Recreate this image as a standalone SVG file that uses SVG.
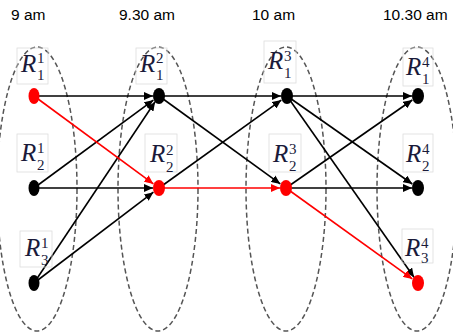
<svg xmlns="http://www.w3.org/2000/svg" width="453" height="335" viewBox="0 0 453 335">
<style>
.time{font-family:"Liberation Sans",Arial,sans-serif;font-size:15.5px;fill:#000}
.col{fill:none;stroke:#555;stroke-width:1.5;stroke-dasharray:5,3}
.box{fill:none;stroke:#ddd;stroke-width:0.8}
.R{font-family:"Liberation Serif","Times New Roman",serif;font-style:italic;font-size:25px;fill:#1a1a3a}
.idx{font-family:"Liberation Serif","Times New Roman",serif;font-size:15px;fill:#1a1a3a}
.e{stroke:#000;stroke-width:1.6;fill:none;marker-end:url(#ab)}
.r{stroke:#f00;stroke-width:1.6;fill:none;marker-end:url(#ar)}
.dk{fill:#000}
.dr{fill:#f00}
</style>
<defs>
<marker id="ab" markerUnits="userSpaceOnUse" markerWidth="10" markerHeight="8" refX="9" refY="4" orient="auto"><path d="M0,0 L9,4 L0,8 z" fill="#000"/></marker>
<marker id="ar" markerUnits="userSpaceOnUse" markerWidth="10" markerHeight="8" refX="9" refY="4" orient="auto"><path d="M0,0 L9,4 L0,8 z" fill="#f00"/></marker>
</defs>
<rect width="453" height="335" fill="#fff"/>
<g id="times">
<text class="time" x="11" y="20">9 am</text>
<text class="time" x="119" y="20">9.30 am</text>
<text class="time" x="252" y="20">10 am</text>
<text class="time" x="383" y="20">10.30 am</text>
</g>
<g id="columns">
<ellipse class="col" cx="37" cy="189" rx="40" ry="142"/>
<ellipse class="col" cx="158" cy="189" rx="40" ry="142"/>
<ellipse class="col" cx="286" cy="189" rx="40" ry="142"/>
<ellipse class="col" cx="417" cy="189" rx="40" ry="142"/>
</g>
<g id="connectors">
<line class="e" x1="34" y1="96" x2="153" y2="96"/>
<line class="e" x1="34" y1="188" x2="153.4" y2="100.1"/>
<line class="e" x1="34" y1="283" x2="155.1" y2="101.8"/>
<line class="e" x1="34" y1="283" x2="153.4" y2="192.2"/>
<line class="e" x1="34" y1="188" x2="153" y2="188"/>
<line class="r" x1="34" y1="96" x2="153.4" y2="183.9"/>
<line class="e" x1="159" y1="96" x2="281" y2="96"/>
<line class="e" x1="159" y1="96" x2="280.3" y2="183.9"/>
<line class="e" x1="159" y1="188" x2="281.3" y2="100.1"/>
<line class="r" x1="159" y1="188" x2="280" y2="188"/>
<line class="e" x1="287" y1="96" x2="412" y2="96"/>
<line class="e" x1="287" y1="96" x2="412.3" y2="184"/>
<line class="e" x1="287" y1="96" x2="414" y2="277.3"/>
<line class="e" x1="286" y1="188" x2="412.3" y2="100"/>
<line class="e" x1="286" y1="188" x2="412" y2="188"/>
<line class="r" x1="286" y1="188" x2="412.3" y2="278.9"/>
</g>
<g id="R1_1">
<rect class="box" x="17" y="48" width="31" height="36"/>
<text class="R" x="21" y="72">R</text><text class="idx" x="37" y="63">1</text><text class="idx" x="37" y="80">1</text>
<ellipse class="dr" cx="34" cy="96" rx="5.5" ry="8"/>
</g>
<g id="R2_1">
<rect class="box" x="17" y="134" width="31" height="38"/>
<text class="R" x="21" y="161">R</text><text class="idx" x="37" y="153">1</text><text class="idx" x="37" y="170">2</text>
<ellipse class="dk" cx="34" cy="188" rx="5.5" ry="8"/>
</g>
<g id="R3_1">
<rect class="box" x="20" y="231" width="32" height="36"/>
<text class="R" x="25" y="256">R</text><text class="idx" x="41" y="248">1</text><text class="idx" x="41" y="265">3</text>
<ellipse class="dk" cx="34" cy="283" rx="5.5" ry="8"/>
</g>
<g id="R1_2">
<rect class="box" x="136" y="48" width="31" height="36"/>
<text class="R" x="140" y="72">R</text><text class="idx" x="156" y="63">2</text><text class="idx" x="156" y="80">1</text>
<ellipse class="dk" cx="159" cy="96" rx="6" ry="8"/>
</g>
<g id="R2_2">
<rect class="box" x="145" y="134" width="32" height="38"/>
<text class="R" x="150" y="162">R</text><text class="idx" x="166" y="155">2</text><text class="idx" x="166" y="172">2</text>
<ellipse class="dr" cx="159" cy="188" rx="6" ry="8"/>
</g>
<g id="R1_3">
<rect class="box" x="264" y="41" width="32" height="42"/>
<text class="R" x="268" y="69">R</text><text class="idx" x="284" y="61">3</text><text class="idx" x="284" y="78">1</text>
<ellipse class="dk" cx="287" cy="96" rx="6" ry="8"/>
</g>
<g id="R2_3">
<rect class="box" x="269" y="134" width="32" height="38"/>
<text class="R" x="273" y="162">R</text><text class="idx" x="289" y="154">3</text><text class="idx" x="289" y="171">2</text>
<ellipse class="dr" cx="286" cy="188" rx="6" ry="8"/>
</g>
<g id="R1_4">
<rect class="box" x="403" y="48" width="30" height="38"/>
<text class="R" x="406" y="75">R</text><text class="idx" x="422" y="67">4</text><text class="idx" x="422" y="84">1</text>
<ellipse class="dk" cx="418" cy="96" rx="6" ry="8"/>
</g>
<g id="R2_4">
<rect class="box" x="403" y="134" width="30" height="38"/>
<text class="R" x="406" y="162">R</text><text class="idx" x="422" y="154">4</text><text class="idx" x="422" y="171">2</text>
<ellipse class="dk" cx="418" cy="188" rx="6" ry="8"/>
</g>
<g id="R3_4">
<rect class="box" x="402" y="229" width="31" height="34"/>
<text class="R" x="405" y="256">R</text><text class="idx" x="421" y="248">4</text><text class="idx" x="421" y="263">3</text>
<ellipse class="dr" cx="418" cy="283" rx="6" ry="8"/>
</g>
</svg>
